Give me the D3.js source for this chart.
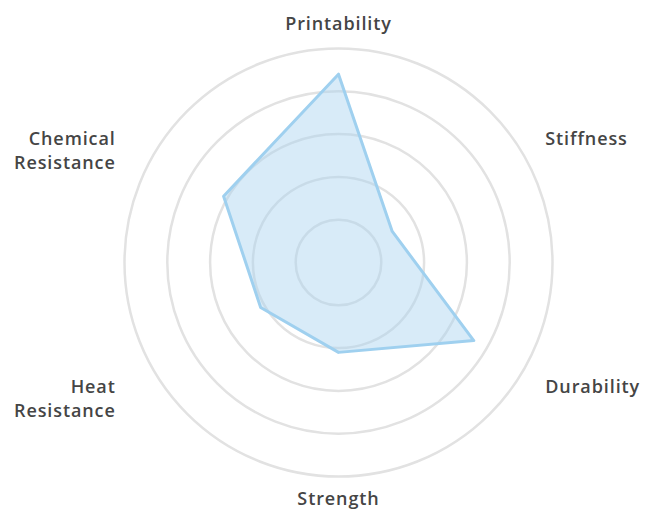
<!DOCTYPE html>
<html>
<head>
<meta charset="utf-8">
<script src="https://cdn.jsdelivr.net/npm/d3@7"></script>
<style>
    body { margin: 0; background: #ffffff; }
    svg { display: block; }
    .label { font-family: "Open Sans", "Noto Sans", sans-serif; font-size: 18px; font-weight: 600; fill: #454545; letter-spacing: 0.9px; }
</style>
</head>
<body>
<script>
const width = 646;
const height = 510;
const cx = 338.5;
const cy = 262.5;
const outerRadius = 214;

// axes, clockwise from the top
const axes = ["Printability", "Stiffness", "Durability", "Strength", "Heat Resistance", "Chemical Resistance"];
const axisLines = [["Printability"], ["Stiffness"], ["Durability"], ["Strength"], ["Heat", "Resistance"], ["Chemical", "Resistance"]];
const values = [4.4, 1.45, 3.65, 2.1, 2.1, 3.1];
const levels = [1, 2, 3, 4, 5];

const svg = d3.select("body")
    .append("svg")
    .attr("width", width)
    .attr("height", height);

const g = svg.append("g")
    .attr("transform", `translate(${cx},${cy})`);

const rScale = d3.scaleLinear()
    .domain([0, 5])
    .range([0, outerRadius]);

const angle = d3.scalePoint()
    .domain(axes)
    .range([0, 2 * Math.PI * (axes.length - 1) / axes.length]);

// grid rings
g.selectAll("circle.ring")
    .data(levels)
    .enter()
    .append("circle")
    .attr("class", "ring")
    .attr("r", d => rScale(d))
    .attr("fill", "none")
    .attr("stroke", "#e2e2e2")
    .attr("stroke-width", 2.5);

// data shape
const radar = d3.lineRadial()
    .angle((d, i) => angle(axes[i]))
    .radius(d => rScale(d))
    .curve(d3.curveLinearClosed);

g.append("path")
    .datum(values)
    .attr("d", radar)
    .attr("fill", "#a9d2f0")
    .attr("fill-opacity", 0.45)
    .attr("stroke", "#9fd0ef")
    .attr("stroke-width", 3)
    .attr("stroke-linejoin", "round");

// labels
function labelPos(name) {
    const a = angle(name);
    const s = Math.sin(a);
    const c = Math.cos(a);
    if (Math.abs(s) < 0.01) {
        return { x: 0, y: c > 0 ? -239 : 236, anchor: "middle" };
    }
    return { x: s * 248 - 8, y: -c * 248, anchor: s > 0 ? "start" : "end" };
}

const labels = g.selectAll("text.label")
    .data(axes)
    .enter()
    .append("text")
    .attr("class", "label")
    .attr("text-anchor", d => labelPos(d).anchor)
    .attr("x", d => labelPos(d).x)
    .attr("y", d => labelPos(d).y);

labels.selectAll("tspan")
    .data((d, i) => axisLines[i].map(t => ({ t, name: d })))
    .enter()
    .append("tspan")
    .attr("x", d => labelPos(d.name).x)
    .attr("dy", (d, j) => j === 0 ? "0.35em" : "1.32em")
    .text(d => d.t);
</script>
</body>
</html>
